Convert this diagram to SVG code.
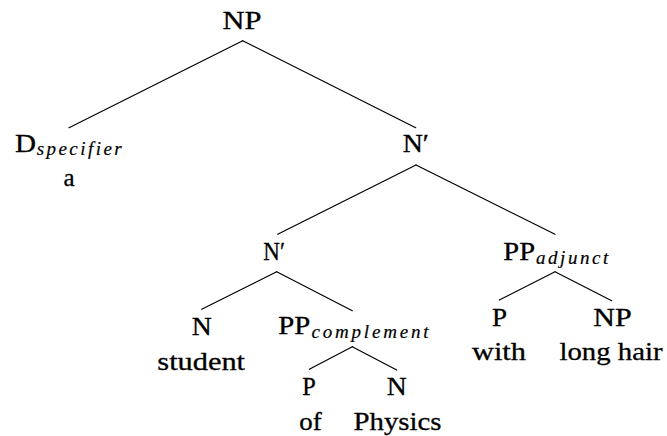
<svg xmlns="http://www.w3.org/2000/svg" width="667" height="436" viewBox="0 0 667 436">
<style>
.t{font-family:"Liberation Serif","Times New Roman",serif;font-size:25px;fill:#000;stroke:#000;stroke-width:0.3}
.m{text-anchor:middle}
.s{font-family:"Liberation Serif","Times New Roman",serif;font-style:italic;font-size:19px;fill:#000;stroke:#000;stroke-width:0.2}
.e{stroke:#000;stroke-width:1.2;fill:none;stroke-linecap:round}
</style>
<rect width="667" height="436" fill="#fff"/>
<g id="connectors">
<line class="e" x1="242.7" y1="40.7" x2="69" y2="127.7"/>
<line class="e" x1="242.7" y1="40.7" x2="415.7" y2="127.7"/>
<line class="e" x1="416" y1="165" x2="277.7" y2="234.3"/>
<line class="e" x1="416" y1="165" x2="555" y2="234.3"/>
<line class="e" x1="276.7" y1="271.7" x2="201.7" y2="309.3"/>
<line class="e" x1="276.7" y1="271.7" x2="352.3" y2="310.7"/>
<line class="e" x1="352.3" y1="346.7" x2="309.3" y2="369.3"/>
<line class="e" x1="352.3" y1="346.7" x2="396.7" y2="370"/>
<line class="e" x1="555" y1="271.7" x2="499.3" y2="300"/>
<line class="e" x1="555" y1="271.7" x2="611.7" y2="300.7"/>
</g>
<g id="n-np"><text class="t m" x="242" y="28.5" textLength="39" lengthAdjust="spacingAndGlyphs">NP</text></g>
<g id="n-d">
<text class="t" x="15" y="151.7" textLength="21" lengthAdjust="spacingAndGlyphs">D</text>
<text class="s" x="36.7" y="155" textLength="85" lengthAdjust="spacing">specifier</text>
<text class="t m" x="69" y="186">a</text>
</g>
<g id="n-nbar1"><text class="t" x="402.7" y="152.3" textLength="26.3" lengthAdjust="spacingAndGlyphs">N′</text></g>
<g id="n-nbar2"><text class="t" x="263.3" y="260" textLength="21.7" lengthAdjust="spacingAndGlyphs">N′</text></g>
<g id="n-n1">
<text class="t m" x="201.7" y="335" textLength="20" lengthAdjust="spacingAndGlyphs">N</text>
<text class="t m" x="201.2" y="369.5" textLength="87.7" lengthAdjust="spacingAndGlyphs">student</text>
</g>
<g id="n-ppc">
<text class="t" x="278.3" y="334" textLength="32" lengthAdjust="spacingAndGlyphs">PP</text>
<text class="s" x="311.5" y="338" textLength="117" lengthAdjust="spacing">complement</text>
</g>
<g id="n-p1">
<text class="t m" x="309" y="395" textLength="13.5" lengthAdjust="spacingAndGlyphs">P</text>
<text class="t m" x="310.5" y="430" textLength="22.4" lengthAdjust="spacingAndGlyphs">of</text>
</g>
<g id="n-n2">
<text class="t m" x="396.7" y="395" textLength="20" lengthAdjust="spacingAndGlyphs">N</text>
<text class="t m" x="397.5" y="430" textLength="88" lengthAdjust="spacingAndGlyphs">Physics</text>
</g>
<g id="n-ppa">
<text class="t" x="503.3" y="260" textLength="31.7" lengthAdjust="spacingAndGlyphs">PP</text>
<text class="s" x="536" y="263.5" textLength="72.3" lengthAdjust="spacing">adjunct</text>
</g>
<g id="n-p2">
<text class="t m" x="499.5" y="325.5" textLength="15" lengthAdjust="spacingAndGlyphs">P</text>
<text class="t m" x="499" y="360" textLength="54" lengthAdjust="spacingAndGlyphs">with</text>
</g>
<g id="n-np2">
<text class="t m" x="612.5" y="325.5" textLength="38.4" lengthAdjust="spacingAndGlyphs">NP</text>
<text class="t m" x="611" y="360" textLength="103" lengthAdjust="spacingAndGlyphs">long hair</text>
</g>
</svg>
